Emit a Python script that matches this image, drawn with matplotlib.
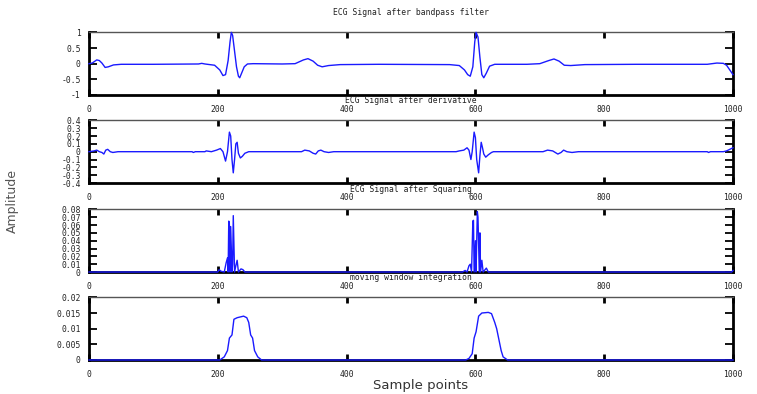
import matplotlib.pyplot as plt

# key points, (sample, amplitude)
bandpass = [(0, 0.0), (5, 0.02), (12, 0.12), (16, 0.1), (20, 0.02), (25, -0.12), (30, -0.1),
            (38, -0.04), (50, -0.02), (100, -0.02), (170, -0.01), (175, 0.01), (180, -0.01),
            (195, -0.05), (203, -0.2), (208, -0.38), (212, -0.35), (216, 0.1), (219, 0.7),
            (221, 1.0), (223, 0.9), (226, 0.4), (229, -0.1), (232, -0.4), (234, -0.45),
            (237, -0.3), (241, -0.1), (246, -0.01), (255, 0.0), (300, -0.01), (320, 0.0),
            (333, 0.12), (340, 0.16), (348, 0.08), (355, -0.05), (362, -0.1), (372, -0.06),
            (390, -0.03), (450, -0.02), (560, -0.03), (575, -0.06), (583, -0.2), (588, -0.35),
            (592, -0.4), (596, -0.1), (599, 0.7), (601, 1.0), (604, 0.85), (607, 0.2),
            (610, -0.35), (613, -0.45), (617, -0.3), (622, -0.08), (630, -0.02), (680, -0.02),
            (700, 0.0), (714, 0.1), (722, 0.15), (730, 0.08), (738, -0.05), (748, -0.06),
            (770, -0.03), (850, -0.02), (960, -0.02), (975, 0.02), (985, 0.01), (990, -0.05),
            (995, -0.2), (1000, -0.35)]

derivative = [(0, 0.0), (8, 0.01), (12, 0.02), (16, 0.0), (20, -0.01), (23, -0.03), (26, 0.02),
              (29, 0.03), (33, 0.0), (37, -0.01), (45, 0.0), (160, 0.0), (162, -0.01), (165, 0.0),
              (180, 0.0), (182, 0.01), (190, 0.0), (198, 0.02), (204, 0.04), (208, 0.0),
              (212, -0.12), (215, 0.0), (218, 0.25), (220, 0.2), (222, -0.1), (224, -0.27),
              (226, -0.1), (228, 0.1), (230, 0.12), (232, -0.02), (235, -0.08), (238, -0.06),
              (242, -0.02), (248, 0.0), (330, 0.0), (335, 0.02), (342, 0.01), (348, -0.02),
              (352, -0.03), (356, 0.01), (360, 0.02), (365, 0.0), (372, -0.01), (380, 0.0),
              (570, 0.0), (575, 0.01), (582, 0.02), (587, 0.05), (590, 0.02), (593, -0.1),
              (595, 0.0), (598, 0.25), (600, 0.18), (602, -0.1), (605, -0.27), (607, -0.05),
              (609, 0.12), (611, 0.05), (613, -0.03), (616, -0.07), (620, -0.04), (625, -0.01),
              (628, 0.0), (705, 0.0), (712, 0.02), (720, 0.01), (728, -0.03), (733, -0.01),
              (737, 0.02), (742, 0.0), (750, -0.01), (760, 0.0), (960, 0.0), (962, -0.01),
              (965, 0.0), (985, 0.0), (990, 0.01), (995, 0.03), (1000, 0.05)]

squared = [(0, 0.0), (200, 0.0), (202, 0.003), (205, 0.001), (210, 0.0), (213, 0.012),
           (215, 0.018), (216, 0.0), (217, 0.065), (218, 0.06), (219, 0.0), (220, 0.058),
           (222, 0.0), (223, 0.01), (224, 0.072), (226, 0.0), (228, 0.008), (230, 0.015),
           (232, 0.0), (236, 0.004), (239, 0.003), (242, 0.0), (580, 0.0), (584, 0.002),
           (587, 0.0), (590, 0.008), (592, 0.01), (594, 0.0), (596, 0.065), (597, 0.066),
           (598, 0.0), (600, 0.04), (601, 0.0), (603, 0.077), (604, 0.07), (606, 0.0),
           (607, 0.05), (608, 0.0), (610, 0.015), (612, 0.0), (615, 0.003), (617, 0.005),
           (620, 0.0), (998, 0.0), (1000, 0.002)]

integrated = [(0, 0.0), (203, 0.0), (210, 0.001), (215, 0.003), (218, 0.007), (222, 0.008),
              (225, 0.013), (230, 0.0135), (240, 0.014), (245, 0.0135), (248, 0.012),
              (251, 0.008), (254, 0.007), (257, 0.003), (262, 0.001), (268, 0.0), (585, 0.0),
              (590, 0.0005), (595, 0.002), (598, 0.007), (601, 0.009), (605, 0.014),
              (610, 0.015), (620, 0.0152), (625, 0.0148), (630, 0.012), (633, 0.01),
              (637, 0.006), (640, 0.003), (643, 0.001), (650, 0.0), (1000, 0.0)]

titles = ["ECG Signal after bandpass filter", "ECG Signal after derivative",
          "ECG Signal after Squaring", "moving window integration"]
yticks = [[-1, -0.5, 0, 0.5, 1],
          [-0.4, -0.3, -0.2, -0.1, 0, 0.1, 0.2, 0.3, 0.4],
          [0, 0.01, 0.02, 0.03, 0.04, 0.05, 0.06, 0.07, 0.08],
          [0, 0.005, 0.01, 0.015, 0.02]]
xticks = [0, 200, 400, 600, 800, 1000]
signals = [bandpass, derivative, squared, integrated]

mono = "DejaVu Sans Mono"
fs = 5.8
fig = plt.figure(figsize=(7.57, 3.94), dpi=100)
bottoms = [0.7589, 0.5355, 0.3096, 0.0863]

for sig, title, yt, b in zip(signals, titles, yticks, bottoms):
    ax = fig.add_axes([0.1176, b, 0.8507, 0.159])
    xs = [p[0] for p in sig]
    ys = [p[1] for p in sig]
    ax.plot(xs, ys, color="#1a1aff", lw=1.0, zorder=3, clip_on=False)
    ax.set_xlim(0, 1000)
    ax.set_ylim(yt[0], yt[-1])
    ax.set_xticks(xticks)
    ax.set_yticks(yt)
    ax.set_xticklabels([str(v) for v in xticks], fontfamily=mono, fontsize=fs, color="#222222")
    ax.set_yticklabels([("%g" % v) for v in yt], fontfamily=mono, fontsize=fs, color="#222222")
    ax.tick_params(axis="x", direction="in", top=True, length=4, width=2, pad=7)
    ax.tick_params(axis="y", direction="in", right=True, length=6, width=1.3, pad=6)
    for side in ["left", "right", "bottom"]:
        ax.spines[side].set_linewidth(2)
    ax.spines["top"].set_linewidth(1)
    ax.spines["top"].set_color("#555555")
    ax.annotate(title, xy=(0.5, 1), xycoords="axes fraction", xytext=(0, 14),
                textcoords="offset points", ha="center", va="center",
                fontfamily=mono, fontsize=fs, color="#222222")

fig.text(0.556, 0.022, "Sample points", ha="center", va="center", fontsize=9.5, color="#333333")
fig.text(0.016, 0.49, "Amplitude", rotation=90, ha="center", va="center", fontsize=9,
         color="#555555", family=["Liberation Sans Narrow", "DejaVu Sans"])

plt.savefig("out.png", dpi=100)
